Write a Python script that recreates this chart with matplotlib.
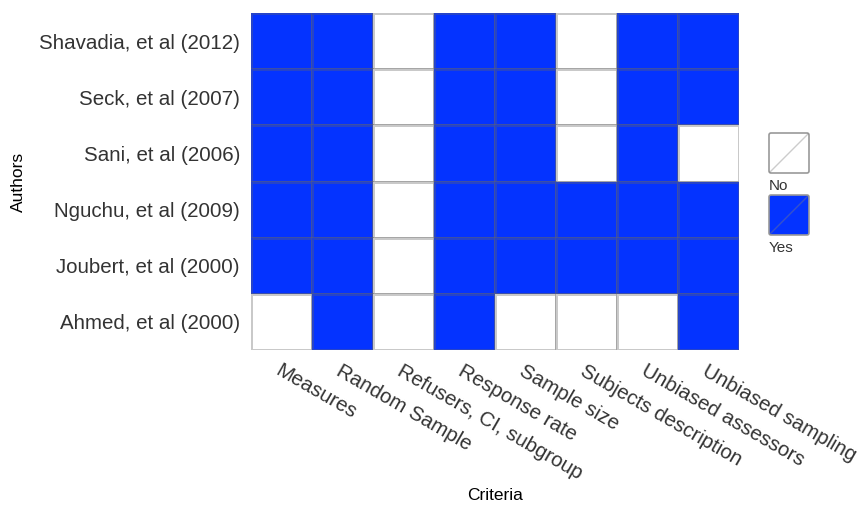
import matplotlib.pyplot as plt
from matplotlib.colors import ListedColormap
from matplotlib.patches import FancyBboxPatch
import numpy as np

AUTHORS = ['Shavadia, et al (2012)', 'Seck, et al (2007)', 'Sani, et al (2006)',
           'Nguchu, et al (2009)', 'Joubert, et al (2000)', 'Ahmed, et al (2000)']
CRITERIA = ['Measures', 'Random Sample', 'Refusers, CI, subgroup', 'Response rate',
            'Sample size', 'Subjects description', 'Unbiased assessors', 'Unbiased sampling']
# 1 = Yes, 0 = No  (rows top to bottom as in AUTHORS)
SHAVADIA = [1, 1, 0, 1, 1, 0, 1, 1]
SECK = [1, 1, 0, 1, 1, 0, 1, 1]
SANI = [1, 1, 0, 1, 1, 0, 1, 0]
NGUCHU = [1, 1, 0, 1, 1, 1, 1, 1]
JOUBERT = [1, 1, 0, 1, 1, 1, 1, 1]
AHMED = [0, 1, 0, 1, 0, 0, 0, 1]
LEVELS = ['No', 'Yes']

BLUE = '#0433FF'
TXT = '#333333'
plt.rcParams['font.family'] = ['Liberation Sans', 'DejaVu Sans']

grid = np.array([SHAVADIA, SECK, SANI, NGUCHU, JOUBERT, AHMED])

fig = plt.figure(figsize=[8.6, 5.09], dpi=100)
ax = fig.add_axes([251 / 860, 1 - 350 / 509, 488 / 860, 337 / 509])
ax.pcolormesh(grid, cmap=ListedColormap(['white', BLUE]), vmin=0, vmax=1,
              edgecolors=(0.4, 0.4, 0.4, 0.35), linewidth=0.8)
ax.set_xlim(0, len(CRITERIA))
ax.set_ylim(len(AUTHORS), 0)
for s in ax.spines.values():
    s.set_visible(False)
ax.set_xticks(np.arange(len(CRITERIA)) + 0.5)
ax.set_yticks(np.arange(len(AUTHORS)) + 0.5)
ax.set_xticklabels(CRITERIA, rotation=-30, ha='left', rotation_mode='anchor',
                   fontsize=14.8, color=TXT)
ax.set_yticklabels(AUTHORS, fontsize=14.8, color=TXT)
ax.tick_params(length=0, pad=8)
ax.set_xlabel('Criteria', fontsize=12.5, labelpad=4)
ax.set_ylabel('Authors', fontsize=12.5)
ax.yaxis.set_label_coords(-225 / 488, 0.5)

# Legend
lax = fig.add_axes([760 / 860, 1 - 260 / 509, 70 / 860, 140 / 509])
lax.set_xlim(0, 70)
lax.set_ylim(140, 0)
lax.axis('off')
for i, (lab, col) in enumerate(zip(LEVELS, ['white', BLUE])):
    y0 = 13 + i * 62
    lax.add_patch(FancyBboxPatch((9, y0), 40, 40, boxstyle='round,pad=0,rounding_size=2',
                                 facecolor=col, edgecolor='#999999', linewidth=1.2))
    lax.plot([10, 48], [y0 + 39, y0 + 1], color=(0.5, 0.5, 0.5, 0.4), lw=1)
    lax.text(9, y0 + 53, lab, fontsize=11, ha='left', va='center', color=TXT)

fig.savefig('out.png', dpi=100)
